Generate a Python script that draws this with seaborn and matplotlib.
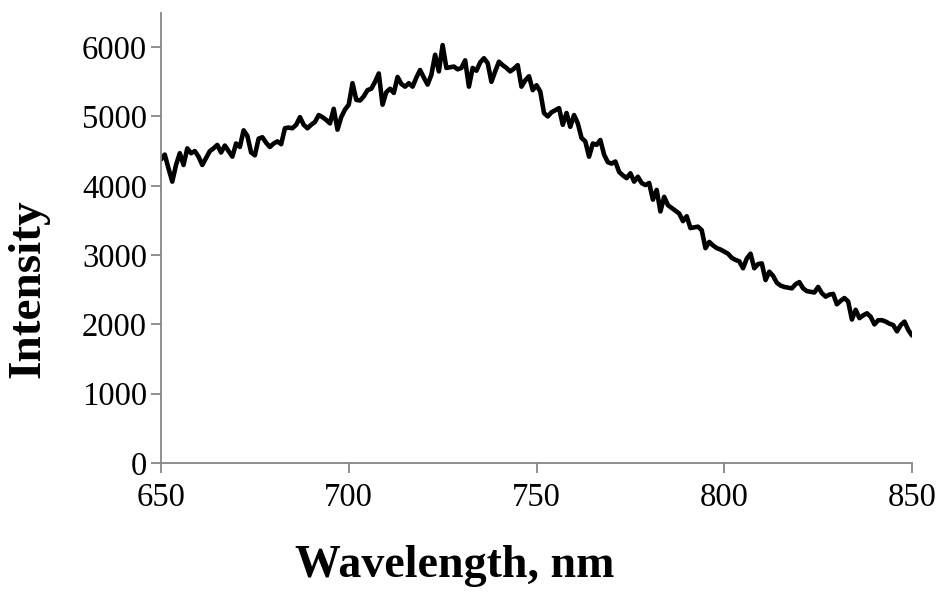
import numpy as np
import pandas as pd
import matplotlib
matplotlib.use("Agg")
import matplotlib.pyplot as plt
import seaborn as sns

# Emission spectrum, sampled every 1 nm from 650 to 850 nm
wavelength_nm = list(range(650, 851))
intensity = [
    4380, 4450, 4250, 4060, 4300, 4470, 4300, 4540, 4470, 4500,   # 650-659
    4420, 4300, 4400, 4500, 4540, 4590, 4480, 4580, 4500, 4420,   # 660-669
    4610, 4560, 4800, 4720, 4480, 4440, 4680, 4700, 4620, 4560,   # 670-679
    4610, 4640, 4600, 4830, 4840, 4830, 4880, 4990, 4880, 4830,   # 680-689
    4880, 4920, 5020, 4990, 4950, 4900, 5110, 4810, 4990, 5100,   # 690-699
    5170, 5480, 5240, 5230, 5290, 5380, 5400, 5500, 5620, 5170,   # 700-709
    5350, 5400, 5340, 5570, 5470, 5430, 5480, 5430, 5560, 5670,   # 710-719
    5560, 5460, 5600, 5890, 5650, 6030, 5700, 5710, 5720, 5680,   # 720-729
    5700, 5810, 5430, 5700, 5660, 5780, 5840, 5770, 5500, 5650,   # 730-739
    5790, 5740, 5700, 5650, 5690, 5740, 5430, 5520, 5580, 5380,   # 740-749
    5450, 5360, 5050, 5000, 5060, 5090, 5120, 4880, 5050, 4850,   # 750-759
    5020, 4900, 4690, 4640, 4420, 4610, 4590, 4660, 4450, 4340,   # 760-769
    4320, 4350, 4200, 4150, 4110, 4180, 4060, 4130, 4040, 4010,   # 770-779
    4040, 3800, 3940, 3630, 3840, 3720, 3680, 3640, 3600, 3490,   # 780-789
    3560, 3390, 3400, 3410, 3360, 3100, 3190, 3140, 3100, 3080,   # 790-799
    3050, 3020, 2960, 2930, 2910, 2810, 2950, 3020, 2810, 2870,   # 800-809
    2880, 2640, 2760, 2700, 2600, 2560, 2540, 2530, 2520, 2580,   # 810-819
    2610, 2520, 2480, 2470, 2460, 2540, 2450, 2400, 2430, 2440,   # 820-829
    2290, 2340, 2380, 2330, 2070, 2210, 2090, 2130, 2160, 2110,   # 830-839
    2000, 2060, 2060, 2040, 2010, 1990, 1900, 1990, 2040, 1920,   # 840-849
    1840,                                                         # 850
]

x_ticks = [650, 700, 750, 800, 850]
y_ticks = [0, 1000, 2000, 3000, 4000, 5000, 6000]

sns.set_theme(style="white")
plt.rcParams["font.family"] = ["Liberation Serif", "DejaVu Serif"]
plt.rcParams["text.color"] = "black"

df = pd.DataFrame({"Wavelength": wavelength_nm, "Intensity": intensity})

W, H = 938, 594
fig = plt.figure(figsize=(W / 100, H / 100), dpi=100)
ax = fig.add_axes([161 / W, 1 - 463 / H, (912 - 161) / W, (463 - 12.5) / H])

sns.lineplot(data=df, x="Wavelength", y="Intensity", ax=ax,
             color="black", linewidth=3.3)
for line in ax.get_lines():
    line.set_solid_joinstyle("round")
    line.set_solid_capstyle("round")

ax.set_xlim(650, 850)
ax.set_ylim(0, 6500)
ax.set_xticks(x_ticks)
ax.set_yticks(y_ticks)

axis_grey = "#868686"
for side in ("top", "right"):
    ax.spines[side].set_visible(False)
for side in ("left", "bottom"):
    ax.spines[side].set_color(axis_grey)
    ax.spines[side].set_linewidth(1.3)

ax.tick_params(axis="both", which="major", direction="out", length=7,
               width=1.3, color=axis_grey, labelsize=23.5, labelcolor="black",
               left=True, bottom=True)
ax.tick_params(axis="x", pad=7)
ax.tick_params(axis="y", pad=3)

# Axis titles placed in figure pixels
ax.set_xlabel("")
ax.set_ylabel("")
fig.text(455 / W, 1 - 566 / H, "Wavelength, nm", fontsize=33,
         fontweight="bold", ha="center", va="center", color="black")
fig.text(28 / W, 1 - 289 / H, "Intensity", fontsize=34,
         fontweight="bold", ha="center", va="center", rotation=90,
         color="black")

fig.savefig("out.png", dpi=100, facecolor="white")
